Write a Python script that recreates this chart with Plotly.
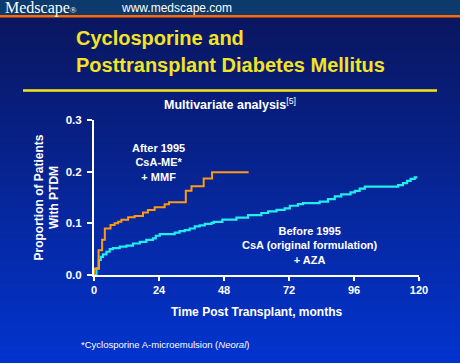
import plotly.graph_objects as go

# Data
after_months = [0, 0.0, 1.7, 3.0, 4.0, 6.1, 7.6, 8.9, 10.1, 12.6, 15.0, 18.1, 19.9, 22.4,
                26.1, 27.7, 33.9, 36.0, 40.5, 43.6, 57.1]
after_vals = [0, 0.012, 0.048, 0.068, 0.090, 0.097, 0.100, 0.103, 0.107, 0.112, 0.114, 0.121,
              0.126, 0.131, 0.137, 0.141, 0.163, 0.172, 0.187, 0.199, 0.199]

before_months = [0, 0.9, 1.8, 2.5, 3.3, 4.6, 5.8, 7.0, 9.5, 12.0, 14.4, 16.9, 19.3, 21.8, 22.8,
                 24.3, 29.8, 31.6, 33.5, 35.3, 37.2, 39.0, 40.9, 43.4, 44.2, 47.4, 52.6, 56.9,
                 61.8, 64.3, 67.4, 70.4, 72.3, 75.3, 77.2, 83.3, 86.4, 88.9, 91.3, 94.7, 96.3,
                 98.1, 100.0, 112.3, 114.1, 115.6, 116.9, 118.4, 119.4]
before_vals = [0, 0.013, 0.029, 0.035, 0.040, 0.045, 0.050, 0.052, 0.055, 0.057, 0.061, 0.064,
               0.068, 0.071, 0.076, 0.079, 0.082, 0.085, 0.087, 0.090, 0.094, 0.096, 0.099,
               0.101, 0.103, 0.107, 0.111, 0.116, 0.120, 0.123, 0.126, 0.129, 0.134, 0.137,
               0.139, 0.142, 0.147, 0.152, 0.156, 0.160, 0.163, 0.167, 0.171, 0.174, 0.178,
               0.182, 0.186, 0.189, 0.189]

x_ticks = [0, 24, 48, 72, 96, 120]
y_ticks = [0.0, 0.1, 0.2, 0.3]
y_tick_labels = ["0.0", "0.1", "0.2", "0.3"]

W, H = 460, 363
L, R, T, B = 94, 41, 120, 88
PW, PH = W - L - R, H - T - B

def px_x(x):
    return (x - L) / PW

def px_y(y):
    return (H - B - y) / PH

FONT = "Arial, Liberation Sans, sans-serif"

fig = go.Figure()
fig.add_trace(go.Scatter(x=before_months, y=before_vals, mode="lines", line_shape="hv",
                         line=dict(color="#22eef0", width=2.2), showlegend=False,
                         hoverinfo="skip"))
fig.add_trace(go.Scatter(x=after_months, y=after_vals, mode="lines", line_shape="hv",
                         line=dict(color="#ff9a10", width=2), showlegend=False,
                         hoverinfo="skip"))

shapes = []
# gradient background
top_c = (10, 22, 96)
bot_c = (3, 52, 206)
y0 = 17
n = 60
for i in range(n):
    ya = y0 + (H - y0) * i / n
    yb = y0 + (H - y0) * (i + 1) / n + 0.6
    t = i / (n - 1)
    c = tuple(int(round(top_c[k] + (bot_c[k] - top_c[k]) * t)) for k in range(3))
    shapes.append(dict(type="rect", xref="paper", yref="paper", x0=px_x(0), x1=px_x(W),
                       y0=px_y(yb), y1=px_y(ya), fillcolor="rgb(%d,%d,%d)" % c,
                       line=dict(width=0), layer="below"))
# banner
shapes.append(dict(type="rect", xref="paper", yref="paper", x0=px_x(0), x1=px_x(W),
                   y0=px_y(15), y1=px_y(0), fillcolor="#0c3a6c", line=dict(width=0),
                   layer="below"))
shapes.append(dict(type="rect", xref="paper", yref="paper", x0=px_x(0), x1=px_x(W),
                   y0=px_y(17.5), y1=px_y(15), fillcolor="#ff6a00", line=dict(width=0),
                   layer="below"))
# yellow rule
shapes.append(dict(type="line", xref="paper", yref="paper", x0=px_x(23), x1=px_x(437),
                   y0=px_y(90.5), y1=px_y(90.5), line=dict(color="#f5e61a", width=2.5)))

ann = []
def text(x, y, s, size, color="white", xanchor="left", align="left", family=FONT):
    ann.append(dict(xref="paper", yref="paper", x=px_x(x), y=px_y(y), text=s,
                    showarrow=False, xanchor=xanchor, yanchor="middle", align=align,
                    font=dict(size=size, color=color, family=family)))

text(3, 7.5, "Medscape<span style='font-size:9px'>®</span>", 16,
     family="Liberation Serif, Times New Roman, serif")
text(119, 7.5, "www.medscape.com", 12)
text(74, 38, "<b>Cyclosporine and</b>", 20, color="#f2e424")
text(74, 65, "<b>Posttransplant Diabetes Mellitus</b>", 20, color="#f2e424")
text(230, 104, "<b>Multivariate analysis</b><sup>[5]</sup>", 12.5, xanchor="center")
text(158, 162, "<b>After 1995<br>CsA-ME*<br>+ MMF</b>", 11, xanchor="center", align="center")
text(310, 245, "<b>Before 1995<br>CsA (original formulation)<br>+ AZA</b>", 11,
     xanchor="center", align="center")
text(256, 312, "<b>Time Post Transplant, months</b>", 12, xanchor="center")
text(79, 344, "*Cyclosporine A-microemulsion (<i>Neoral</i>)", 9.5)
ann.append(dict(xref="paper", yref="paper", x=px_x(46.5), y=px_y(198),
                text="<b>Proportion of Patients<br>With PTDM</b>",
                showarrow=False, textangle=-90, xanchor="center", yanchor="middle",
                align="center", font=dict(size=12, color="white", family=FONT)))

fig.update_layout(
    width=W, height=H,
    margin=dict(l=L, r=R, t=T, b=B),
    paper_bgcolor="#0a1660", plot_bgcolor="rgba(0,0,0,0)",
    shapes=shapes, annotations=ann,
    xaxis=dict(range=[0, 120], tickvals=x_ticks, ticktext=["<b>%d</b>" % v for v in x_ticks],
               showgrid=False, zeroline=False,
               showline=True, linecolor="white", linewidth=2, ticks="outside",
               tickcolor="white", ticklen=4, tickwidth=2,
               tickfont=dict(size=11, color="white", family=FONT)),
    yaxis=dict(range=[0, 0.3], tickvals=y_ticks, ticktext=["<b>%s</b>" % t for t in y_tick_labels],
               showgrid=False, zeroline=False,
               showline=True, linecolor="white", linewidth=2, ticks="outside",
               tickcolor="white", ticklen=5, tickwidth=2, ticklabelstandoff=3,
               tickfont=dict(size=11.5, color="white", family=FONT)),
)
fig.write_html("out.html", config={"displayModeBar": False},
               post_script="document.body.style.margin='0';document.body.style.overflow='hidden';")
